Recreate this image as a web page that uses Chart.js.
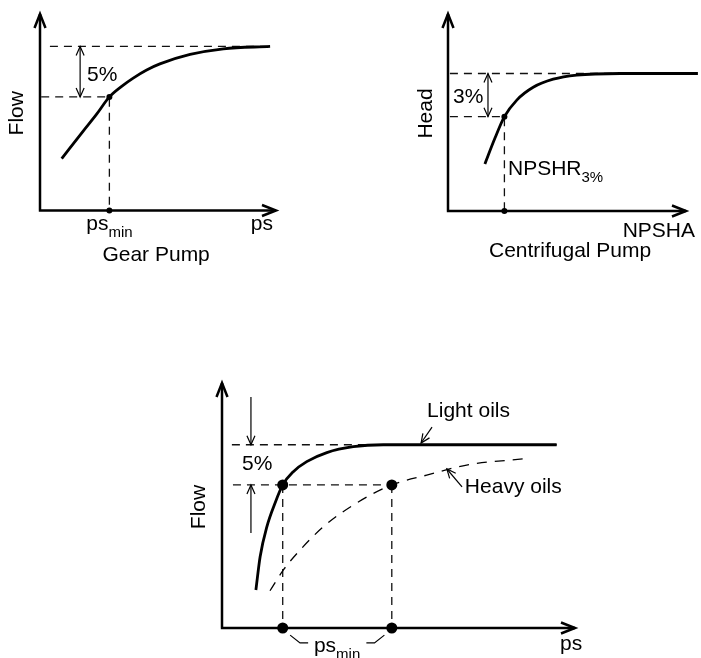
<!DOCTYPE html>
<html lang="en">
<head>
<meta charset="utf-8">
<title>Pump suction curves</title>
<script src="https://cdn.jsdelivr.net/npm/chart.js@4.4.0/dist/chart.umd.min.js"></script>
<style>
  body { margin: 0; background: #fff; }
  .box { position: absolute; }
  #gear { left: 0; top: 0; width: 300px; height: 275px; }
  #centri { left: 400px; top: 0; width: 301px; height: 275px; }
  #oils { left: 180px; top: 370px; width: 421px; height: 288px; }
</style>
</head>
<body>
<div class="box" id="gear"><canvas id="c1"></canvas></div>
<div class="box" id="centri"><canvas id="c2"></canvas></div>
<div class="box" id="oils"><canvas id="c3"></canvas></div>

<script>
// all values in schematic units, both axes run 0..100

// Gear pump: flow vs suction pressure
const gearPs   = [9.2, 18.3, 24.0, 29.4, 34.6, 39.5, 45.2, 50.8, 63.6, 77.7, 97.5];
const gearFlow = [26.4, 40.4, 49.0, 57.8, 63.2, 67.4, 71.5, 74.6, 79.4, 82.3, 83.5];
const gearPsMin = 29.4;
const gearTop = 83.5, gearLow = 57.8;

// Centrifugal pump: head vs NPSHA
const npsha = [15.5, 19.7, 23.7, 28.9, 35.8, 44.2, 54.1, 72.3, 105];
const head  = [23.9, 36.9, 47.9, 56.3, 62.8, 66.9, 69.0, 69.8, 69.8];
const npshr = 23.7;
const headTop = 69.8, headLow = 47.9;

// Light / heavy oils: flow vs suction pressure
const lightPs   = [9.6, 10.8, 12.7, 15.0, 17.2, 20.2, 24.0, 29.7, 37.2, 45.7, 94.8];
const lightFlow = [15.5, 29.1, 41.3, 50.9, 58.4, 63.8, 67.9, 71.6, 74.0, 74.8, 74.8];
const heavyPs   = [13.6, 17.4, 22.1, 28.7, 37.2, 48.1, 58.0, 69.3, 87.3];
const heavyFlow = [15.2, 23.7, 31.8, 41.3, 50.2, 58.4, 62.4, 66.5, 69.3];
const psMinLight = 17.2, psMinHeavy = 48.1;
const oilTop = 74.8, oilLow = 58.4;

const FONT = '"Liberation Sans", Arial, Helvetica, sans-serif';

const pts = (xs, ys) => xs.map((x, i) => ({ x: x, y: ys[i] }));

function curve(data, width, dash) {
  return {
    data: data, showLine: true, borderColor: '#000', borderWidth: width,
    borderDash: dash || [], pointRadius: 0, cubicInterpolationMode: 'monotone', clip: false
  };
}
function guide(data) {
  return { data: data, showLine: true, borderColor: '#111', borderWidth: 1.3,
    borderDash: [8, 6], pointRadius: 0, clip: false };
}
function dots(data, r) {
  return { data: data, showLine: false, pointRadius: r, pointBackgroundColor: '#000',
    pointBorderWidth: 0, clip: false };
}

function head2(ctx, x1, y1, x2, y2, len, half) {
  const a = Math.atan2(y2 - y1, x2 - x1);
  const c = Math.cos(a), s = Math.sin(a);
  ctx.beginPath();
  ctx.moveTo(x2 - len * c + half * s, y2 - len * s - half * c);
  ctx.lineTo(x2, y2);
  ctx.lineTo(x2 - len * c - half * s, y2 - len * s + half * c);
  ctx.stroke();
}

// draws axes, annotation arrows and texts for one chart
function makeSketch(spec) {
  return {
    id: 'sketch',
    afterDatasetsDraw(chart) {
      const ctx = chart.ctx;
      const sx = chart.scales.x, sy = chart.scales.y;
      const px = v => sx.getPixelForValue(v), py = v => sy.getPixelForValue(v);
      ctx.save();
      ctx.strokeStyle = '#000';
      ctx.fillStyle = '#000';
      ctx.lineJoin = 'miter';

      // axes
      ctx.lineWidth = 2.5;
      const ox = px(0), oy = py(0);
      ctx.beginPath();
      ctx.moveTo(ox, oy); ctx.lineTo(ox, py(100));
      ctx.moveTo(ox - 1.2, oy); ctx.lineTo(px(100), oy);
      ctx.stroke();
      head2(ctx, ox, oy, ox, py(100), 14, 5.5);
      head2(ctx, ox, oy, px(100), oy, 14, 5.5);

      // thin arrows
      ctx.lineWidth = 1.2;
      (spec.arrows || []).forEach(a => {
        const x1 = px(a.from[0]), y1 = py(a.from[1]), x2 = px(a.to[0]), y2 = py(a.to[1]);
        ctx.beginPath(); ctx.moveTo(x1, y1); ctx.lineTo(x2, y2); ctx.stroke();
        head2(ctx, x1, y1, x2, y2, 9, 4);
        if (a.both) head2(ctx, x2, y2, x1, y1, 9, 4);
      });
      (spec.lines || []).forEach(l => {
        ctx.beginPath();
        l.forEach((p, i) => i ? ctx.lineTo(px(p[0]), py(p[1])) : ctx.moveTo(px(p[0]), py(p[1])));
        ctx.stroke();
      });

      // texts
      (spec.texts || []).forEach(t => {
        const x = px(t.x), y = py(t.y);
        ctx.font = '21px ' + FONT;
        if (t.rotate) {
          ctx.save();
          ctx.translate(x, y);
          ctx.rotate(-Math.PI / 2);
          ctx.textAlign = 'center';
          ctx.textBaseline = 'middle';
          ctx.fillText(t.text, 0, 0);
          ctx.restore();
          return;
        }
        ctx.textBaseline = 'alphabetic';
        ctx.textAlign = 'left';
        const w1 = ctx.measureText(t.text).width;
        let w2 = 0;
        if (t.sub) { ctx.font = '15px ' + FONT; w2 = ctx.measureText(t.sub).width; }
        const w = w1 + w2;
        let x0 = x;
        if (t.align === 'center') x0 = x - w / 2;
        if (t.align === 'right') x0 = x - w;
        ctx.font = '21px ' + FONT;
        ctx.fillText(t.text, x0, y);
        if (t.sub) {
          ctx.font = '15px ' + FONT;
          ctx.fillText(t.sub, x0 + w1, y + 7);
        }
      });
      ctx.restore();
    }
  };
}

function build(id, padding, datasets, spec) {
  return new Chart(document.getElementById(id), {
    type: 'scatter',
    data: { datasets: datasets },
    options: {
      responsive: true,
      maintainAspectRatio: false,
      animation: false,
      events: [],
      layout: { padding: padding },
      scales: {
        x: { type: 'linear', min: 0, max: 100, display: false },
        y: { type: 'linear', min: 0, max: 100, display: false }
      },
      plugins: { legend: { display: false }, tooltip: { enabled: false } }
    },
    plugins: [makeSketch(spec)]
  });
}

// Gear pump
build('c1', { left: 40, top: 14, right: 24, bottom: 64.5 }, [
  curve(pts(gearPs, gearFlow), 2.8),
  dots([{ x: gearPsMin, y: gearLow }, { x: gearPsMin, y: 0 }], 3),
  guide([{ x: 4.2, y: gearTop }, { x: 97.5, y: gearTop }]),
  guide([{ x: 0.5, y: gearLow }, { x: gearPsMin, y: gearLow }, { x: gearPsMin, y: 0 }])
], {
  arrows: [{ from: [17, gearTop], to: [17, gearLow], both: true }],
  texts: [
    { x: -9.7, y: 49.5, text: 'Flow', rotate: true },
    { x: 19.9, y: 65.9, text: '5%' },
    { x: gearPsMin, y: -10, text: 'ps', sub: 'min', align: 'center' },
    { x: 94, y: -10, text: 'ps', align: 'center' },
    { x: 49.2, y: -25.9, text: 'Gear Pump', align: 'center' }
  ]
});

// Centrifugal pump
build('c2', { left: 48, top: 14, right: 15, bottom: 64 }, [
  curve(pts(npsha, head), 2.8),
  dots([{ x: npshr, y: headLow }, { x: npshr, y: 0 }], 3),
  guide([{ x: 0.8, y: headTop }, { x: 105, y: headTop }]),
  guide([{ x: 0.8, y: headLow }, { x: npshr, y: headLow }, { x: npshr, y: 0 }])
], {
  arrows: [{ from: [16.8, headTop], to: [16.8, headLow], both: true }],
  texts: [
    { x: -9.2, y: 49.5, text: 'Head', rotate: true },
    { x: 2.1, y: 54.8, text: '3%' },
    { x: 25.2, y: 18.3, text: 'NPSHR', sub: '3%' },
    { x: 103.8, y: -13.2, text: 'NPSHA', align: 'right' },
    { x: 51.3, y: -23.4, text: 'Centrifugal Pump', align: 'center' }
  ]
});

// Light vs heavy oils
build('c3', { left: 42, top: 13, right: 26, bottom: 30 }, [
  curve(pts(lightPs, lightFlow), 2.8),
  curve(pts(heavyPs, heavyFlow), 1.3, [10, 8]),
  dots([{ x: psMinLight, y: oilLow }, { x: psMinHeavy, y: oilLow },
        { x: psMinLight, y: 0 }, { x: psMinHeavy, y: 0 }], 5.5),
  guide([{ x: 2.8, y: oilTop }, { x: 94.8, y: oilTop }]),
  guide([{ x: 3.1, y: oilLow }, { x: psMinHeavy, y: oilLow }]),
  guide([{ x: psMinLight, y: oilLow }, { x: psMinLight, y: 0 }]),
  guide([{ x: psMinHeavy, y: oilLow }, { x: psMinHeavy, y: 0 }])
], {
  arrows: [
    { from: [8.2, 94.3], to: [8.2, oilTop] },
    { from: [8.2, 38.8], to: [8.2, oilLow] },
    { from: [59.5, 82.0], to: [56.4, 75.5] },
    { from: [68.0, 57.6], to: [63.7, 64.9] }
  ],
  lines: [
    [[19.3, -2.9], [22.1, -6.1], [24.4, -6.1]],
    [[40.9, -6.1], [43.2, -6.1], [46.0, -2.9]]
  ],
  texts: [
    { x: -6.4, y: 49.4, text: 'Flow', rotate: true },
    { x: 5.7, y: 64.5, text: '5%' },
    { x: 58.1, y: 86.1, text: 'Light oils' },
    { x: 68.8, y: 55.1, text: 'Heavy oils' },
    { x: 32.6, y: -9.8, text: 'ps', sub: 'min', align: 'center' },
    { x: 98.9, y: -9, text: 'ps', align: 'center' }
  ]
});
</script>
</body>
</html>
